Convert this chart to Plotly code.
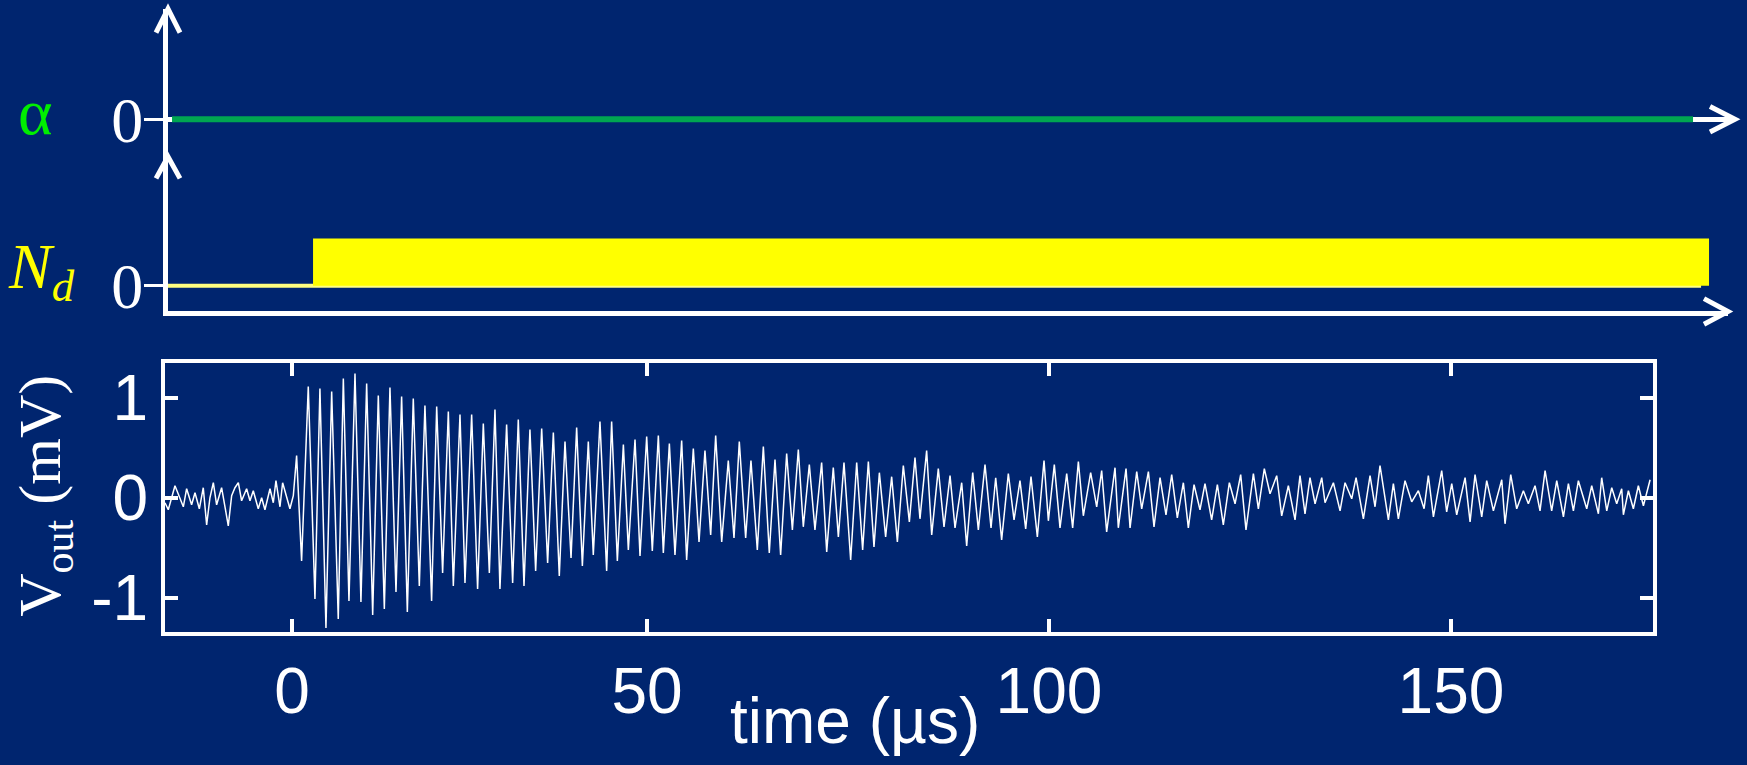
import plotly.graph_objects as go

# ---------------- data ----------------
# pre-trigger noise of V_out (time in µs, value in mV)
noise_t = [-9.95, -9.54, -8.71, -8.09, -7.67, -7.26, -6.64, -6.22, -5.68, -5.19,
           -4.77, -4.36, -3.94, -3.53, -2.91, -2.49, -2.08, -1.66, -1.25, -0.83,
           -0.42, 0.20, 0.62, 1.03, 1.65, 2.07, 2.48, 3.11, 3.52, 3.85,
           4.35, 4.68, 5.18, 5.59, 6.01]
noise_v = [-0.05, -0.12, 0.12, 0.00, -0.09, 0.09, -0.07, 0.05, -0.11, 0.10,
           -0.27, 0.00, 0.15, -0.07, 0.10, -0.09, -0.28, 0.02, 0.10, 0.15,
           -0.03, 0.09, -0.03, 0.07, -0.11, 0.00, -0.12, 0.09, -0.05, 0.17,
           -0.09, 0.15, 0.00, -0.11, 0.02]

# ringing, segment 1
ring1_t = [6.42, 7.04, 7.87, 8.70, 9.32, 10.07, 10.78, 11.60, 12.23, 12.93,
           13.68, 14.42, 15.13, 15.88, 16.58, 17.33, 18.03, 18.78, 19.48, 20.19,
           20.93, 21.68, 22.38, 23.21, 23.84, 24.58, 25.29, 25.91, 26.74, 27.36,
           28.19, 28.93, 29.64, 30.39, 31.09, 31.71, 32.54, 33.29, 33.99, 34.70,
           35.44, 36.15, 36.90, 37.64]
ring1_v = [0.42, -0.63, 1.11, -1.01, 1.09, -1.30, 1.06, -1.21, 1.19, -1.03,
           1.24, -1.04, 1.14, -1.17, 1.02, -1.11, 1.10, -0.94, 1.01, -1.14,
           0.99, -0.88, 0.92, -1.03, 0.91, -0.75, 0.86, -0.88, 0.83, -0.85,
           0.83, -0.91, 0.74, -0.75, 0.88, -0.91, 0.73, -0.85, 0.78, -0.88,
           0.68, -0.73, 0.69, -0.65]

# ringing, segment 2
ring2_t = [38.35, 39.09, 39.80, 40.55, 41.25, 41.96, 42.70, 43.32, 44.15, 44.98,
           45.60, 46.31, 47.06, 47.68, 48.51, 49.13, 49.96, 50.66, 51.41, 52.03,
           52.78, 53.48, 54.31, 54.93, 55.76, 56.47, 57.21, 57.92, 58.54, 59.29,
           60.11, 60.82, 61.48, 62.27, 62.93, 63.72, 64.47, 65.21, 65.92, 66.62,
           67.37, 68.08, 68.82, 69.44, 70.19, 70.89, 71.72, 72.35, 73.17, 73.80,
           74.50, 75.33, 76.08, 76.82, 77.53, 78.23, 78.90, 79.68, 80.43, 81.14,
           81.88, 82.63, 83.33, 83.95, 84.78, 85.41, 86.23]
ring2_v = [0.65, -0.78, 0.56, -0.60, 0.70, -0.68, 0.56, -0.57, 0.76, -0.73,
           0.76, -0.63, 0.53, -0.52, 0.58, -0.58, 0.61, -0.53, 0.62, -0.55,
           0.54, -0.57, 0.57, -0.62, 0.49, -0.44, 0.47, -0.37, 0.62, -0.44,
           0.37, -0.40, 0.56, -0.40, 0.37, -0.52, 0.51, -0.55, 0.38, -0.57,
           0.44, -0.32, 0.48, -0.29, 0.33, -0.32, 0.35, -0.54, 0.30, -0.39,
           0.35, -0.62, 0.35, -0.52, 0.36, -0.49, 0.25, -0.39, 0.21, -0.44,
           0.32, -0.24, 0.40, -0.21, 0.47, -0.37, 0.29]

# ringing, segment 3
ring3_t = [86.94, 87.69, 88.31, 89.14, 89.76, 90.51, 91.21, 92.04, 92.79, 93.37,
           94.11, 94.94, 95.65, 96.39, 97.10, 97.76, 98.55, 99.38, 99.92, 100.66,
           101.37, 102.20, 102.94, 103.65, 104.27, 105.18, 105.93, 106.55, 107.17, 108.21,
           108.62, 109.58, 110.08, 110.91, 111.53, 112.36, 113.06, 113.81, 114.55, 115.26,
           115.96, 116.71, 117.33, 118.04, 118.78, 119.40, 120.23, 120.94, 121.68, 122.43,
           123.14, 123.84, 124.50, 125.42, 126.04, 126.78, 127.49, 128.32, 128.94, 129.77,
           130.60, 131.22, 131.84, 132.46, 133.09, 133.92, 134.33]
ring3_v = [-0.29, 0.22, -0.30, 0.15, -0.48, 0.25, -0.32, 0.33, -0.30, 0.20,
           -0.42, 0.24, -0.22, 0.17, -0.31, 0.21, -0.39, 0.37, -0.23, 0.33,
           -0.30, 0.24, -0.30, 0.36, -0.18, 0.25, -0.09, 0.27, -0.34, 0.30,
           -0.30, 0.29, -0.30, 0.26, -0.11, 0.26, -0.29, 0.20, -0.17, 0.23,
           -0.20, 0.15, -0.30, 0.13, -0.12, 0.14, -0.22, 0.13, -0.27, 0.15,
           -0.06, 0.23, -0.32, 0.24, -0.11, 0.29, 0.04, 0.22, -0.18, 0.12,
           -0.22, 0.22, -0.16, 0.20, -0.06, 0.20, -0.05]

# ringing, segment 4
ring4_t = [135.37, 136.20, 136.82, 137.65, 138.19, 139.10, 139.93, 140.55, 141.17, 142.21,
           142.83, 143.45, 144.28, 145.11, 145.94, 146.65, 147.18, 147.81, 148.84, 149.46,
           150.09, 150.71, 151.75, 152.37, 152.99, 153.82, 154.44, 155.27, 156.31, 156.72,
           157.43, 158.17, 159.00, 159.62, 160.45, 161.07, 161.70, 162.52, 163.15, 163.98,
           164.60, 165.22, 165.84, 166.88, 167.50, 168.33, 168.74, 169.37, 169.99, 170.61,
           171.23, 171.44, 172.06, 172.68, 173.30, 173.93, 174.76]
ring4_v = [0.15, -0.13, 0.15, -0.01, 0.20, -0.21, 0.22, -0.09, 0.32, -0.22,
           0.14, -0.21, 0.17, -0.04, 0.07, -0.11, 0.22, -0.19, 0.27, -0.14,
           0.14, -0.17, 0.20, -0.24, 0.23, -0.19, 0.17, -0.13, 0.18, -0.26,
           0.23, -0.11, 0.07, -0.06, 0.12, -0.13, 0.27, -0.13, 0.17, -0.19,
           0.14, -0.13, 0.17, -0.11, 0.12, -0.16, 0.20, -0.13, 0.10, -0.06,
           0.09, -0.17, 0.07, -0.11, 0.12, -0.08, 0.18]

# schematic control signals
alpha_t = [-9.08, 180.1]
alpha_v = [0, 0]
nd_base_t = [-9.58, 181.1]
nd_base_v = [0, 0]
nd_on_t = [8.46, 182.09]
nd_on_v = [1, 1]

# tick labels
x_tickvals = [5.85, 50, 100, 150]
x_ticktext = ["0", "50", "100", "150"]
y_tickvals = [-1, 0, 1]
y_ticktext = ["-1", "0", "1"]

# ---------------- styling ----------------
W, H = 1747, 765
BG = "#00256F"
WHITE = "#FFFFFF"


def px(x):
    return x / W


def py(y):
    return 1 - y / H


vout_t = noise_t + ring1_t + ring2_t + ring3_t + ring4_t
vout_v = noise_v + ring1_v + ring2_v + ring3_v + ring4_v

fig = go.Figure()

fig.add_trace(go.Scatter(x=vout_t, y=vout_v, mode="lines",
                         line=dict(color=WHITE, width=1.5),
                         xaxis="x", yaxis="y", showlegend=False))

fig.add_trace(go.Scatter(x=alpha_t, y=alpha_v, mode="lines",
                         line=dict(color="#00A651", width=6),
                         xaxis="x2", yaxis="y2", showlegend=False))

fig.add_trace(go.Scatter(x=nd_base_t, y=nd_base_v, mode="lines",
                         line=dict(color="#FFFF80", width=4),
                         xaxis="x3", yaxis="y3", showlegend=False))
fig.add_trace(go.Scatter(x=nd_on_t, y=nd_on_v, mode="lines",
                         line=dict(color="#FFFF00", width=0),
                         fill="tozeroy", fillcolor="#FFFF00",
                         xaxis="x3", yaxis="y3", showlegend=False))

serif = "Liberation Serif"
sans = "Liberation Sans"

fig.update_layout(
    width=W, height=H,
    margin=dict(l=0, r=0, t=0, b=0),
    paper_bgcolor=BG, plot_bgcolor=BG,
    showlegend=False,
    xaxis=dict(domain=[px(165), px(1652.5)], range=[-9.95, 175.06], anchor="y",
               showline=True, linecolor=WHITE, linewidth=4, mirror="ticks",
               ticks="inside", ticklen=13, tickwidth=4, tickcolor=WHITE,
               tickvals=x_tickvals, ticktext=x_ticktext,
               tickfont=dict(family=sans, size=64, color=WHITE),
               showgrid=False, zeroline=False),
    yaxis=dict(domain=[py(640.5), py(367.5)], range=[-1.342, 1.342], anchor="x",
               showline=True, linecolor=WHITE, linewidth=4, mirror="ticks",
               ticks="inside", ticklen=13, tickwidth=4, tickcolor=WHITE,
               tickvals=y_tickvals, ticktext=y_ticktext,
               tickfont=dict(family=sans, size=64, color=WHITE),
               ticklabelstandoff=0,
               showgrid=False, zeroline=False),
    xaxis2=dict(domain=[px(168), px(1735)], range=[-9.58, 185.32], anchor="y2",
                visible=False),
    yaxis2=dict(domain=[py(158), py(8)], range=[-0.79, 2.33], anchor="x2",
                showline=True, linecolor=WHITE, linewidth=5,
                ticks="outside", ticklen=19, tickwidth=3, tickcolor=WHITE,
                tickvals=[0], ticktext=["0"],
                tickfont=dict(family=serif, size=64, color=WHITE),
                ticklabelstandoff=-12,
                showgrid=False, zeroline=True, zerolinecolor=WHITE, zerolinewidth=5),
    xaxis3=dict(domain=[px(168), px(1728)], range=[-9.58, 184.45], anchor="y3",
                showline=True, linecolor=WHITE, linewidth=5,
                showticklabels=False, ticks="",
                showgrid=False, zeroline=False),
    yaxis3=dict(domain=[py(315), py(158)], range=[-0.542, 2.729], anchor="x3",
                showline=True, linecolor=WHITE, linewidth=5,
                ticks="outside", ticklen=19, tickwidth=3, tickcolor=WHITE,
                tickvals=[0], ticktext=["0"],
                tickfont=dict(family=serif, size=64, color=WHITE),
                ticklabelstandoff=-12,
                showgrid=False, zeroline=False),
)

# arrow heads (decoration of the schematic axes)
chevrons = [
    [(156, 32), (168, 8), (180, 32)],
    [(156, 180), (168, 158), (180, 180)],
    [(1710, 107), (1735, 120), (1710, 133)],
    [(1704, 302), (1728, 315), (1704, 328)],
]
for pts in chevrons:
    path = "M {} {} L {} {} L {} {}".format(px(pts[0][0]), py(pts[0][1]),
                                            px(pts[1][0]), py(pts[1][1]),
                                            px(pts[2][0]), py(pts[2][1]))
    fig.add_shape(type="path", path=path, xref="paper", yref="paper",
                  line=dict(color=WHITE, width=5))

# labels
fig.add_annotation(text="α", x=px(35), y=py(112), xref="paper", yref="paper",
                   showarrow=False, xanchor="center", yanchor="middle",
                   font=dict(family=serif, size=66, color="#00EE00"))
fig.add_annotation(text="<i>N</i><sub><i>d</i></sub>", x=px(6), y=py(274),
                   xref="paper", yref="paper", showarrow=False,
                   xanchor="left", yanchor="middle",
                   font=dict(family=serif, size=64, color="#FFFF00"))
fig.add_annotation(text="V<sub>out</sub> (mV)", x=px(45), y=py(502),
                   xref="paper", yref="paper", showarrow=False, textangle=-90,
                   xanchor="center", yanchor="middle",
                   font=dict(family=serif, size=60, color=WHITE))
fig.add_annotation(text="time (µs)", x=px(855), y=py(730),
                   xref="paper", yref="paper", showarrow=False,
                   xanchor="center", yanchor="middle",
                   font=dict(family=sans, size=64, color=WHITE))

fig.write_html("out.html", config={"displayModeBar": False},
               post_script="document.body.style.margin='0';document.body.style.overflow='hidden';")
